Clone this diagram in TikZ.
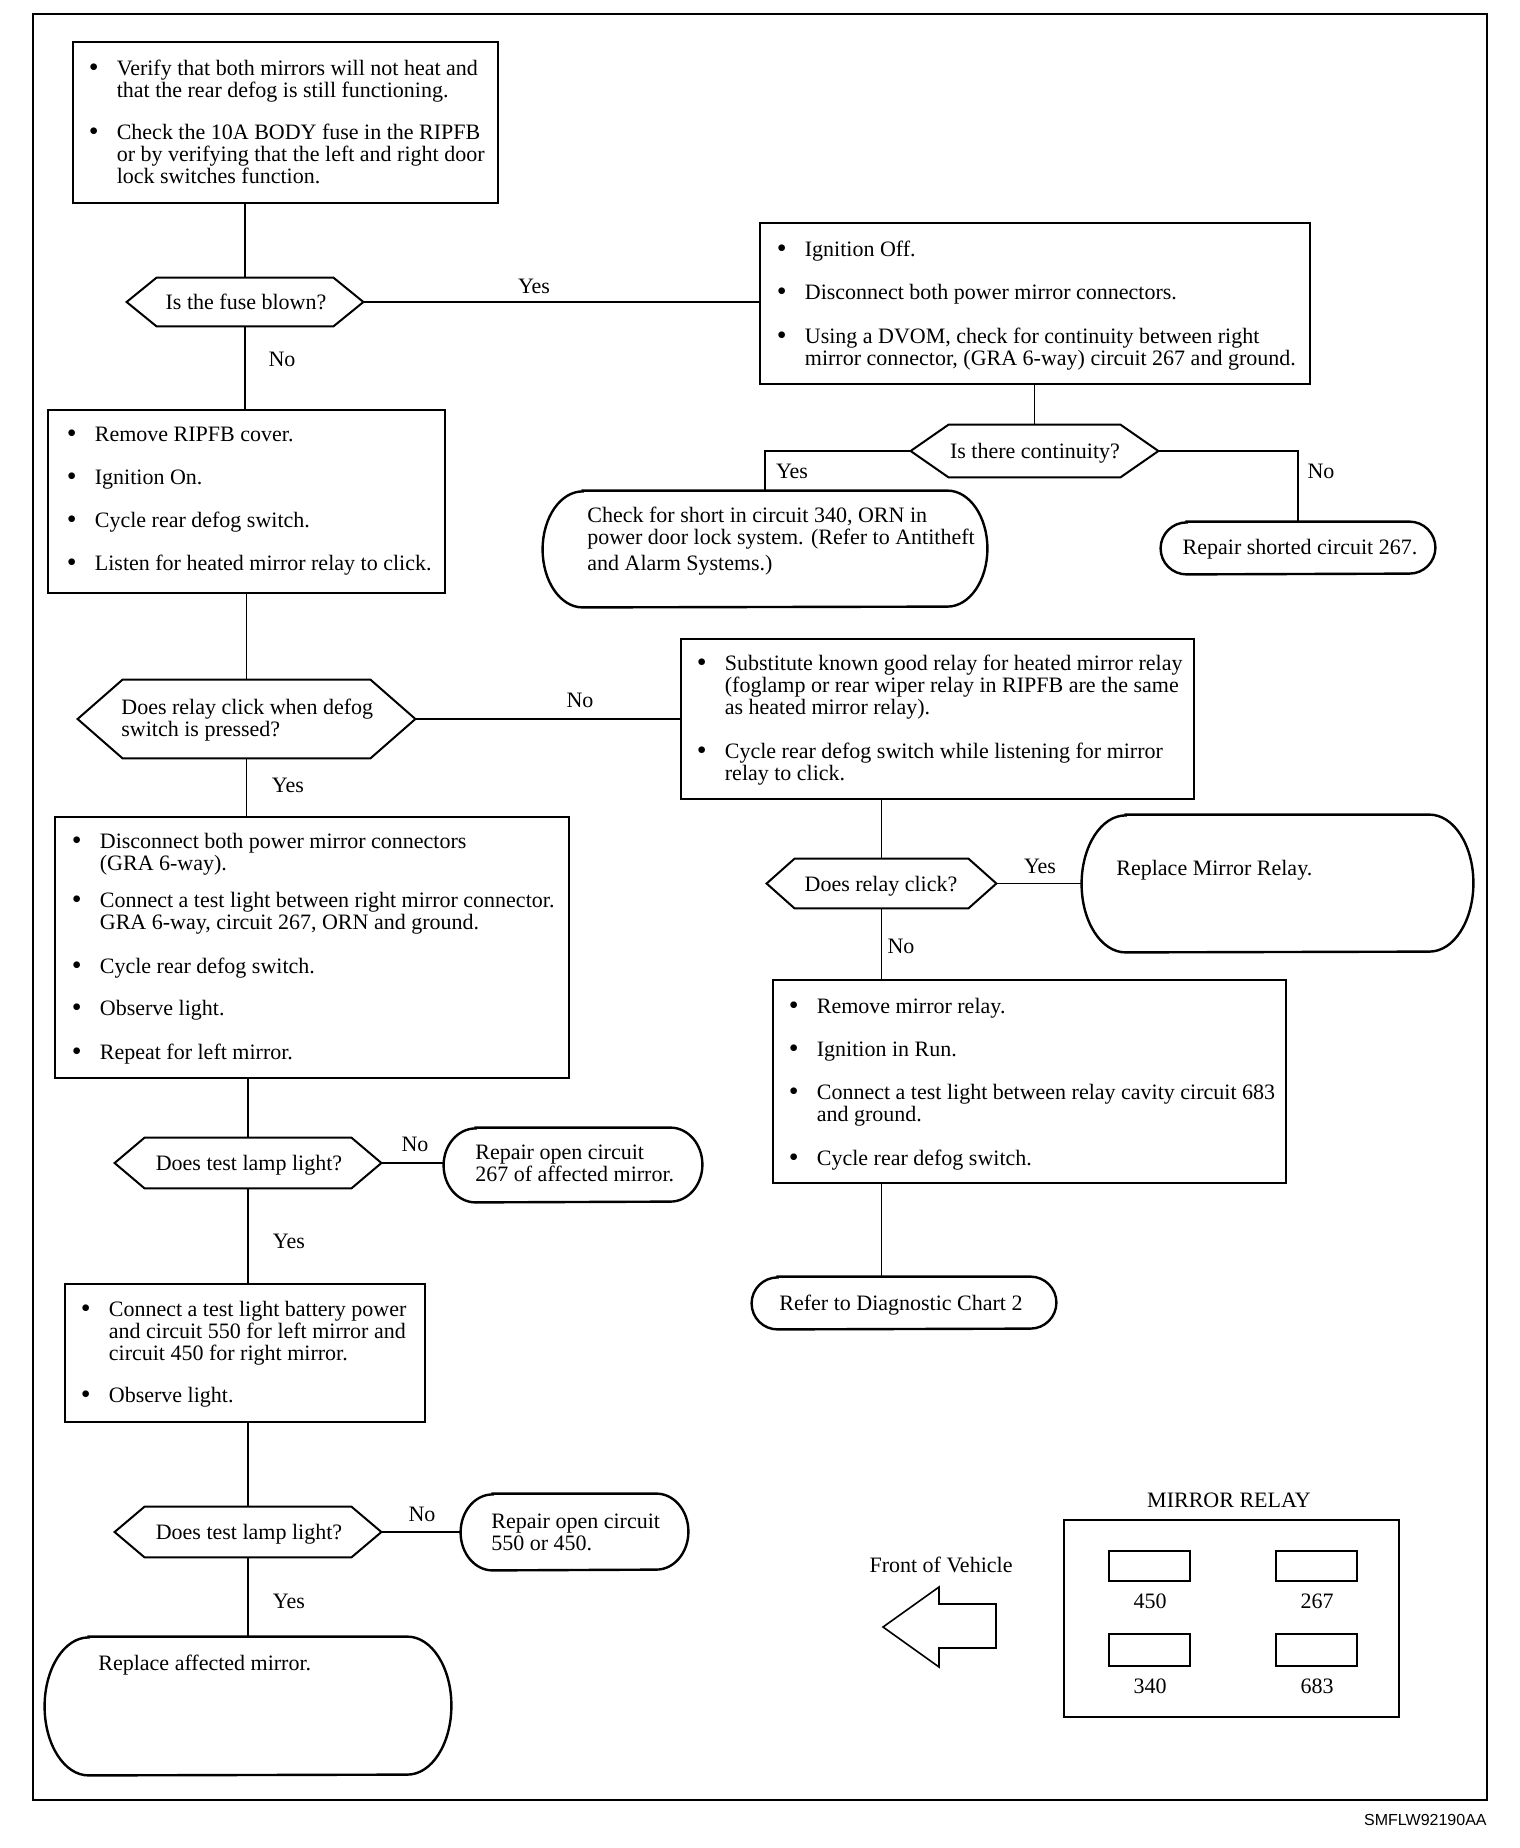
\documentclass[tikz,border=0pt]{standalone}
\usepackage{fontspec}
\setmainfont{Liberation Serif}
\newfontfamily\labelsans{Liberation Sans}
\usetikzlibrary{fit,calc}

\newcommand{\bul}{\makebox[14pt][l]{\raisebox{-0.7pt}{\fontsize{14}{11}\selectfont\textbullet}}}
\newcommand{\ind}{\hspace*{14pt}}
\newcommand{\blist}[1]{\begin{tabular}[t]{@{}l@{}}#1\end{tabular}}
\newcommand{\hexdraw}[2]{\draw[hexline] (#1.west) -- ($(#1.north west)+(#2,0)$) -- ($(#1.north east)+(-#2,0)$) -- (#1.east) -- ($(#1.south east)+(-#2,0)$) -- ($(#1.south west)+(#2,0)$) -- cycle;}
% node, end depth (pt), half height (pt)
\newcommand{\termdraw}[3]{\draw[termline] ($(#1.north west)+(2*#2,0)$) -- ($(#1.north east)+(-2*#2,0)$) arc[start angle=90,end angle=-90,x radius=#2pt,y radius=#3pt] -- ($(#1.south west)+(2*#2,0)$) arc[start angle=270,end angle=90,x radius=#2pt,y radius=#3pt] -- cycle;}

\begin{document}
\begin{tikzpicture}[x=0.5pt,y=-0.5pt,
  every node/.style={font=\fontsize{11}{11}\selectfont, inner sep=0pt},
  box/.style={draw, line width=1.1pt, rectangle, inner sep=0pt},
  shp/.style={draw=none, rectangle, inner sep=0pt},
  termline/.style={line width=1.2pt},
  hexline/.style={line width=1pt, line join=miter},
  conn/.style={line width=0.7pt},
  lbl/.style={anchor=center},
  ctxt/.style={anchor=base},
  btxt/.style={anchor=base west},
  slot/.style={draw, line width=0.9pt, rectangle, inner sep=0pt},
]
\useasboundingbox (0,0) rectangle (1520,1848);
\fill[white] (0,0) rectangle (1520,1848);
\draw[line width=0.9pt] (33,14) rectangle (1487,1800);

% ---- shapes ----
\node[box, fit={(73,42) (498,203)}] (b1) {};
\node[shp, fit={(127,278) (363,326)}] (d1) {};
\node[box, fit={(48,410) (445,593)}] (b2) {};
\node[box, fit={(760,223) (1310,384)}] (b3) {};
\node[shp, fit={(911,425) (1158,477)}] (d2) {};
\node[shp, fit={(543,491) (987,607)}] (t1) {};
\node[shp, fit={(1161,522) (1435,574)}] (t2) {};
\node[shp, fit={(78,680) (415,758)}] (d3) {};
\node[box, fit={(681,639) (1194,799)}] (b4) {};
\node[shp, fit={(767,859) (996,908)}] (d4) {};
\node[shp, fit={(1082,815) (1473,952)}] (t3) {};
\node[box, fit={(773,980) (1286,1183)}] (b5) {};
\node[shp, fit={(752,1277) (1056,1329)}] (t4) {};
\node[box, fit={(55,817) (569,1078)}] (b6) {};
\node[shp, fit={(115,1138) (381,1188)}] (d5) {};
\node[shp, fit={(444,1128) (702,1202)}] (t5) {};
\node[box, fit={(65,1284) (425,1422)}] (b7) {};
\node[shp, fit={(115,1507) (381,1557)}] (d6) {};
\node[shp, fit={(461,1494) (688,1570)}] (t6) {};
\node[shp, fit={(45,1637) (451,1775)}] (t7) {};

\hexdraw{d1}{30}
\hexdraw{d2}{38}
\hexdraw{d3}{45}
\hexdraw{d4}{28}
\hexdraw{d5}{30}
\hexdraw{d6}{30}

\termdraw{t1}{20}{29}
\termdraw{t2}{13}{13}
\termdraw{t3}{22}{34.25}
\termdraw{t4}{13}{13}
\termdraw{t5}{16}{18.5}
\termdraw{t6}{16}{19}
\termdraw{t7}{22}{34.5}

% ---- decision texts ----
\node[ctxt] (d1t) at (246,309) {Is the fuse blown?};
\node[ctxt] (d2t) at (1035,458) {Is there continuity?};
\node[btxt] (d3t) at (121,714) {\blist{Does relay click when defog\\switch is pressed?}};
\node[ctxt] (d4t) at (881,891) {Does relay click?};
\node[ctxt] (d5t) at (249,1170) {Does test lamp light?};
\node[ctxt] (d6t) at (249,1539) {Does test lamp light?};

% ---- box texts ----
\node[btxt] (b1t) at (88.4,75) {\blist{%
\bul Verify that both mirrors will not heat and\\
\ind that the rear defog is still functioning.\\[10pt]
\bul Check the 10A BODY fuse in the RIPFB\\
\ind or by verifying that the left and right door\\
\ind lock switches function.}};

\node[btxt] (b2t) at (66.5,441) {\blist{%
\bul Remove RIPFB cover.\\[10.5pt]
\bul Ignition On.\\[10.5pt]
\bul Cycle rear defog switch.\\[10.5pt]
\bul Listen for heated mirror relay to click.}};

\node[btxt] (b3t) at (776.5,256) {\blist{%
\bul Ignition Off.\\[10.5pt]
\bul Disconnect both power mirror connectors.\\[11pt]
\bul Using a DVOM, check for continuity between right\\
\ind mirror connector, (GRA 6-way) circuit 267 and ground.}};

\node[btxt] (t1t) at (587,522) {\blist{%
Check for short in circuit 340, ORN in\\
power door lock system. (Refer to Antitheft\\[2pt]
and Alarm Systems.)}};

\node[ctxt] (t2t) at (1300,554) {Repair shorted circuit 267.};

\node[btxt] (b4t) at (696.5,670) {\blist{%
\bul Substitute known good relay for heated mirror relay\\
\ind (foglamp or rear wiper relay in RIPFB are the same\\
\ind as heated mirror relay).\\[11pt]
\bul Cycle rear defog switch while listening for mirror\\
\ind relay to click.}};

\node[btxt] (t3t) at (1116,875) {Replace Mirror Relay.};

\node[btxt] (b5t) at (788.5,1013) {\blist{%
\bul Remove mirror relay.\\[10.5pt]
\bul Ignition in Run.\\[10.5pt]
\bul Connect a test light between relay cavity circuit 683\\
\ind and ground.\\[11pt]
\bul Cycle rear defog switch.}};

\node[ctxt] (t4t) at (901,1310) {Refer to Diagnostic Chart 2};

\node[btxt] (b6t) at (71.5,848) {\blist{%
\bul Disconnect both power mirror connectors\\
\ind (GRA 6-way).\\[7.5pt]
\bul Connect a test light between right mirror connector.\\
\ind GRA 6-way, circuit 267, ORN and ground.\\[11pt]
\bul Cycle rear defog switch.\\[10pt]
\bul Observe light.\\[11pt]
\bul Repeat for left mirror.}};

\node[btxt] (t5t) at (475,1159) {\blist{Repair open circuit\\267 of affected mirror.}};

\node[btxt] (b7t) at (80.5,1316) {\blist{%
\bul Connect a test light battery power\\
\ind and circuit 550 for left mirror and\\
\ind circuit 450 for right mirror.\\[10pt]
\bul Observe light.}};

\node[btxt] (t6t) at (491,1528) {\blist{Repair open circuit\\550 or 450.}};
\node[btxt] (t7t) at (98,1670) {Replace affected mirror.};

% ---- connectors ----
\draw[conn] (d1.north) -- (d1.north |- b1.south);
\draw[conn] (d1.east) -- (d1.east -| b3.west);
\draw[conn] (d1.south) -- (d1.south |- b2.north);
\draw[conn] (d2.north) -- (d2.north |- b3.south);
\draw[conn] (d2.west) -| (t1.north);
\draw[conn] (d2.east) -| (t2.north);
\draw[conn] (d3.north) -- (d3.north |- b2.south);
\draw[conn] (d3.east) -- (d3.east -| b4.west);
\draw[conn] (d3.south) -- (d3.south |- b6.north);
\draw[conn] (d4.north) -- (d4.north |- b4.south);
\draw[conn] (d4.east) -- (d4.east -| t3.west);
\draw[conn] (d4.south) -- (d4.south |- b5.north);
\draw[conn] (d4.south |- b5.south) -- (d4.south |- t4.north);
\draw[conn] (d5.north) -- (d5.north |- b6.south);
\draw[conn] (d5.east) -- (d5.east -| t5.west);
\draw[conn] (d5.south) -- (d5.south |- b7.north);
\draw[conn] (d6.north) -- (d6.north |- b7.south);
\draw[conn] (d6.east) -- (d6.east -| t6.west);
\draw[conn] (d6.south) -- (d6.south |- t7.north);

% ---- branch labels ----
\node[lbl] (l1) at (534,286) {Yes};
\node[lbl] (l2) at (282,359) {No};
\node[lbl] (l3) at (792,471) {Yes};
\node[lbl] (l4) at (1321,471) {No};
\node[lbl] (l5) at (580,700) {No};
\node[lbl] (l6) at (288,785) {Yes};
\node[lbl] (l7) at (1040,866) {Yes};
\node[lbl] (l8) at (901,946) {No};
\node[lbl] (l9) at (415,1144) {No};
\node[lbl] (l10) at (289,1241) {Yes};
\node[lbl] (l11) at (422,1514) {No};
\node[lbl] (l12) at (289,1601) {Yes};

% ---- mirror relay diagram ----
\node[lbl] (fov) at (941,1565) {Front of Vehicle};
\draw[line width=0.8pt, line join=miter] (883,1627) -- (939,1587) -- (939,1604) -- (996,1604) -- (996,1648) -- (939,1648) -- (939,1667) -- cycle;
\node[lbl] (mr) at (1229,1500) {MIRROR RELAY};
\node[slot, line width=1pt, fit={(1064,1520) (1399,1717)}] (rb) {};
\node[slot, fit={(1109,1551) (1190,1581)}] (r1) {};
\node[slot, fit={(1276,1551) (1357,1581)}] (r2) {};
\node[slot, fit={(1109,1634) (1190,1666)}] (r3) {};
\node[slot, fit={(1276,1634) (1357,1666)}] (r4) {};
\node[lbl] (n1) at (1150,1601) {450};
\node[lbl] (n2) at (1317,1601) {267};
\node[lbl] (n3) at (1150,1686) {340};
\node[lbl] (n4) at (1317,1686) {683};

\node[anchor=east, font=\labelsans\fontsize{8}{9}\selectfont] (code) at (1487,1820) {SMFLW92190AA};
\end{tikzpicture}
\end{document}
